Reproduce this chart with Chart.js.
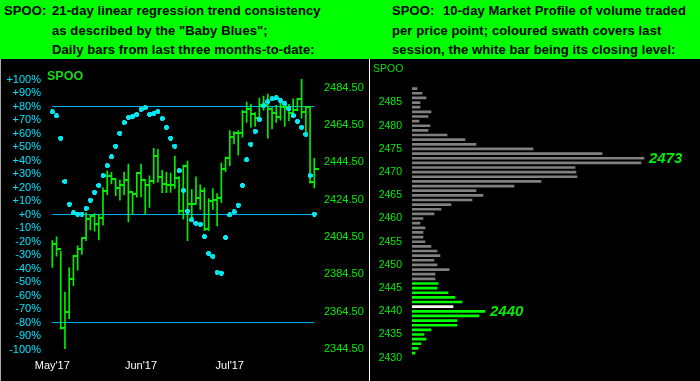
<!DOCTYPE html>
<html><head><meta charset="utf-8">
<script src="https://cdn.jsdelivr.net/npm/chart.js@4/dist/chart.umd.min.js"></script>
<style>
html,body{margin:0;padding:0;background:#000;}
#wrap{position:relative;width:700px;height:381px;background:#000;overflow:hidden;font-family:"Liberation Sans",Arial,sans-serif;}
.hdr{position:absolute;left:0;top:0;width:700px;height:59px;background:#00ff00;}
.t{position:absolute;font-weight:bold;font-size:13px;color:#000;white-space:nowrap;line-height:20px;letter-spacing:0.1px;}
.sep{position:absolute;left:369px;top:59px;width:1px;height:322px;background:#fff;}
.lb{position:absolute;left:0;top:59px;width:1px;height:322px;background:#a8a8a8;}
#left{position:absolute;left:0;top:59px;}
#right{position:absolute;left:370px;top:59px;}
.tag1{position:absolute;left:47px;top:69px;font-weight:bold;font-size:12.5px;line-height:14px;color:#11dd11;}
.tag2{position:absolute;left:373px;top:62px;font-size:10.5px;line-height:12px;color:#11dd11;}
</style></head>
<body>
<div id="wrap">
  <div class="hdr"></div>
  <div class="t" style="left:4px;top:1px">SPOO:</div>
  <div class="t" style="left:52px;top:1px">21-day linear regression trend consistency</div>
  <div class="t" style="left:52px;top:21px">as described by the "Baby Blues";</div>
  <div class="t" style="left:52px;top:40px">Daily bars from last three months-to-date:</div>
  <div class="t" style="left:392px;top:1px">SPOO:</div>
  <div class="t" style="left:443px;top:1px">10-day Market Profile of volume traded</div>
  <div class="t" style="left:392px;top:21px">per price point; coloured swath covers last</div>
  <div class="t" style="left:392px;top:40px">session, the white bar being its closing level:</div>
  <canvas id="left" width="369" height="322"></canvas>
  <canvas id="right" width="330" height="322"></canvas>
  <div class="lb"></div>
  <div class="sep"></div>
  <div class="tag1">SPOO</div>
  <div class="tag2">SPOO</div>
</div>
<script>
// ---------- DATA ----------
const monthLabels = ["May'17", "Jun'17", "Jul'17"];
const monthStart = [0, 21, 42];

const highs = [2402.6,2404.6,2396.8,2375.1,2388.2,2394.7,2399.8,2404.2,2417.6,2416.3,2417.1,2416.7,2430.8,2439.9,2439.2,2435.8,2435.0,2439.3,2443.6,2428.1,2439.2,2443.6,2434.2,2437.2,2452.0,2451.5,2440.2,2439.3,2438.8,2447.8,2436.9,2443.0,
  2445.1,2429.9,2436.7,2432.5,2430.8,2425.1,2430.4,2427.8,2444.1,2447.3,2461.5,2460.9,2461.5,2472.5,2476.8,2475.5,2471.1,2478.9,2479.9,2481.0,2473.8,2475.0,2476.8,2477.3,2475.5,2478.5,2478.7,2488.9,2474.3,2474.5,2446.6];
const lows = [2388.2,2394.2,2355.2,2344.7,2360.8,2378.4,2386.8,2395.2,2402.5,2408.3,2407.7,2403.0,2410.9,2427.2,2433.0,2426.7,2424.2,2427.2,2412.6,2416.7,2425.8,2426.0,2416.7,2420.4,2433.2,2433.9,2428.3,2428.3,2428.4,2430.5,2416.7,2414.1,
  2402.6,2415.0,2422.0,2419.3,2407.9,2407.9,2419.3,2410.5,2422.9,2439.5,2442.7,2454.3,2448.3,2457.9,2465.8,2463.2,2463.7,2467.6,2472.4,2457.4,2462.4,2465.8,2467.1,2463.7,2466.6,2469.4,2472.2,2468.2,2459.9,2433.4,2430.8];
const closes = [2400.9,2397.9,2355.7,2364.2,2382.1,2394.2,2397.9,2403.9,2413.9,2415.5,2411.4,2414.6,2429.3,2437.2,2435.7,2430.5,2432.1,2434.8,2428.4,2427.4,2438.7,2434.8,2432.1,2434.6,2448.1,2436.9,2432.9,2432.1,2432.1,2436.3,2418.3,2442.7,
  2422.1,2422.1,2425.5,2429.0,2408.9,2423.7,2424.2,2425.3,2441.1,2446.9,2457.9,2460.4,2460.4,2471.5,2473.2,2470.6,2468.0,2475.3,2475.0,2472.9,2471.1,2469.0,2474.1,2474.0,2471.0,2472.4,2478.5,2471.5,2474.3,2434.2,2441.1];
const babyBlues = [76,73,56.6,24.5,7.7,1.2,0.4,0.4,4.6,10.7,16.5,21.6,28.9,36.2,42.7,50.7,60.2,68.2,71.9,72.6,74.1,78,79.2,74.1,74.8,76.2,71.1,64.6,56.6,50.7,32.5,17.9,
  2.6,-3.9,-6.3,-7.1,-16.3,-28.7,-30.9,-42.8,-43.3,-17,-0.3,1.9,7,21.6,40.5,52.2,61.7,70.4,80.6,83.5,85.7,86.4,84.3,82.1,78.4,73.3,69,64.6,59.5,28.9,0.4];
const pctLevels = [80, 0, -80];
const pctTicks = [100,90,80,70,60,50,40,30,20,10,0,-10,-20,-30,-40,-50,-60,-70,-80,-90,-100];
const priceTicks = [2484.5,2464.5,2444.5,2424.5,2404.5,2384.5,2364.5,2344.5];

const mpPrices = [2488,2487,2486,2485,2484,2483,2482,2481,2480,2479,2478,2477,2476,2475,2474,2473,2472,2471,2470,2469,2468,2467,2466,2465,2464,2463,2462,2461,2460,2459,
  2458,2457,2456,2455,2454,2453,2452,2451,2450,2449,2448,2447,2446,2445,2444,2443,2442,2441,2440,2439,2438,2437,2436,2435,2434,2433,2432,2431];
const mpVolume = [5,10,14,8,8,19,16,7,18,16,35,53,64,121,190,232,229,163,164,165,129,102,64,71,60,39,29,22,11,8,
  13,11,11,13,19,25,28,22,25,37,23,23,26,25,36,43,50,41,73,67,45,45,19,12,14,9,6,3];
const mpTicks = [2485,2480,2475,2470,2465,2460,2455,2450,2445,2440,2435,2430];
const lastSessionLow = 2431, lastSessionHigh = 2446, lastClose = 2441;

// ---------- STYLE ----------
const FONT = '"Liberation Sans", Arial, sans-serif';
const GREEN = '#00ee00';
const CYAN_LINE = '#00b8ff';
const CYAN_DOT = '#00e8f0';
const CYAN_TXT = '#00e5ff';

function makeTick(){
  const c = document.createElement('canvas'); c.width = 9; c.height = 2;
  const g = c.getContext('2d'); g.fillStyle = GREEN; g.fillRect(4,0,5,2); return c;
}
function makeDot(){
  const c = document.createElement('canvas'); c.width = 5; c.height = 5;
  const g = c.getContext('2d'); g.fillStyle = CYAN_DOT; g.fillRect(1,0,3,5); g.fillRect(0,1,5,3); return c;
}
const tickImg = makeTick(), dotImg = makeDot();
const lastIdx = highs.length - 1;

const levelSets = pctLevels.map(v => ({
  type:'line', data:[{x:0,y:v},{x:lastIdx,y:v}], yAxisID:'pct',
  borderColor:CYAN_LINE, borderWidth:1, pointRadius:0, order:3
}));

new Chart(document.getElementById('left'), {
  type:'bar',
  data:{ datasets:[
    ...levelSets,
    { type:'bar', data: highs.map((h,i)=>({x:i, y:[lows[i], h]})), yAxisID:'price',
      backgroundColor:GREEN, barThickness:1, borderWidth:0, order:2 },
    { type:'scatter', data: closes.map((c,i)=>({x:i, y:c})), yAxisID:'price',
      pointStyle:tickImg, pointRadius:3, order:1 },
    { type:'scatter', data: babyBlues.map((v,i)=>({x:i, y:v})), yAxisID:'pct',
      pointStyle:dotImg, pointRadius:3, order:0 }
  ]},
  options:{
    responsive:false, animation:false, events:[],
    layout:{padding:{top:7,left:0,right:0,bottom:0}},
    plugins:{legend:{display:false}, tooltip:{enabled:false}},
    scales:{
      x:{ type:'linear', min:-1.49, max:63.35, offset:false,
          grid:{display:false, drawTicks:false, offset:false}, border:{display:false},
          afterBuildTicks: s => { s.ticks = monthStart.map(v => ({value:v})); },
          afterFit: s => { s.height = 26; },
          ticks:{ color:'#ffffff', font:{family:FONT, size:11}, padding:4, autoSkip:false, maxRotation:0,
                  callback: v => monthLabels[monthStart.indexOf(v)] } },
      pct:{ type:'linear', position:'left', min:-104.0, max:106.6,
          grid:{display:false, drawTicks:false}, border:{display:false},
          afterBuildTicks: s => { s.ticks = pctTicks.map(v => ({value:v})); },
          afterFit: s => { s.width = 46; },
          ticks:{ color:CYAN_TXT, font:{family:FONT, size:11}, padding:5, autoSkip:false,
                  callback: v => (v >= 0 ? '+' : '') + v + '%' } },
      price:{ type:'linear', position:'right', min:2341.35, max:2493.6,
          grid:{display:false, drawTicks:false}, border:{display:false},
          afterBuildTicks: s => { s.ticks = priceTicks.map(v => ({value:v})); },
          afterFit: s => { s.width = 49; },
          ticks:{ color:GREEN, font:{family:FONT, size:11}, padding:4, autoSkip:false,
                  callback: v => v.toFixed(2) } }
    }
  }
});

const mpColors = mpPrices.map(p => p === lastClose ? '#ffffff' :
  (p >= lastSessionLow && p <= lastSessionHigh ? '#00ff00' : '#808080'));

function argmax(arr, ok){ let b=-1; arr.forEach((v,i)=>{ if(ok(i) && (b<0 || v>arr[b])) b=i; }); return b; }

const mpLabelPlugin = { id:'mpLabels', afterDatasetsDraw(chart){
  const meta = chart.getDatasetMeta(0), ctx = chart.ctx;
  const iAll = argmax(mpVolume, () => true);
  const iSw = argmax(mpVolume, i => mpPrices[i] >= lastSessionLow && mpPrices[i] <= lastSessionHigh);
  ctx.save();
  ctx.font = 'italic bold 15px ' + FONT; ctx.fillStyle = '#00ee00'; ctx.textBaseline = 'middle';
  [iAll, iSw].forEach(i => { const el = meta.data[i]; ctx.fillText(String(mpPrices[i]), el.x + 5, el.y + 1); });
  ctx.restore();
}};

new Chart(document.getElementById('right'), {
  type:'bar',
  data:{ datasets:[{ data: mpPrices.map((p,i)=>({x:mpVolume[i], y:p})), backgroundColor:mpColors,
                     barThickness:2, borderWidth:0 }]},
  options:{
    indexAxis:'y', responsive:false, animation:false, events:[],
    layout:{padding:{top:3,left:0,right:0,bottom:0}},
    plugins:{legend:{display:false}, tooltip:{enabled:false}},
    scales:{
      x:{ type:'linear', display:false, min:0, max:288 },
      y:{ type:'linear', min:2428.49, max:2490.875, offset:false,
          grid:{display:false, drawTicks:false, offset:false}, border:{display:false},
          afterBuildTicks: s => { s.ticks = mpTicks.map(v => ({value:v})); },
          afterFit: s => { s.width = 42; },
          ticks:{ color:GREEN, font:{family:FONT, size:10.5}, padding:10, autoSkip:false,
                  callback: v => String(v) } }
    }
  },
  plugins:[mpLabelPlugin]
});
</script>
</body></html>
